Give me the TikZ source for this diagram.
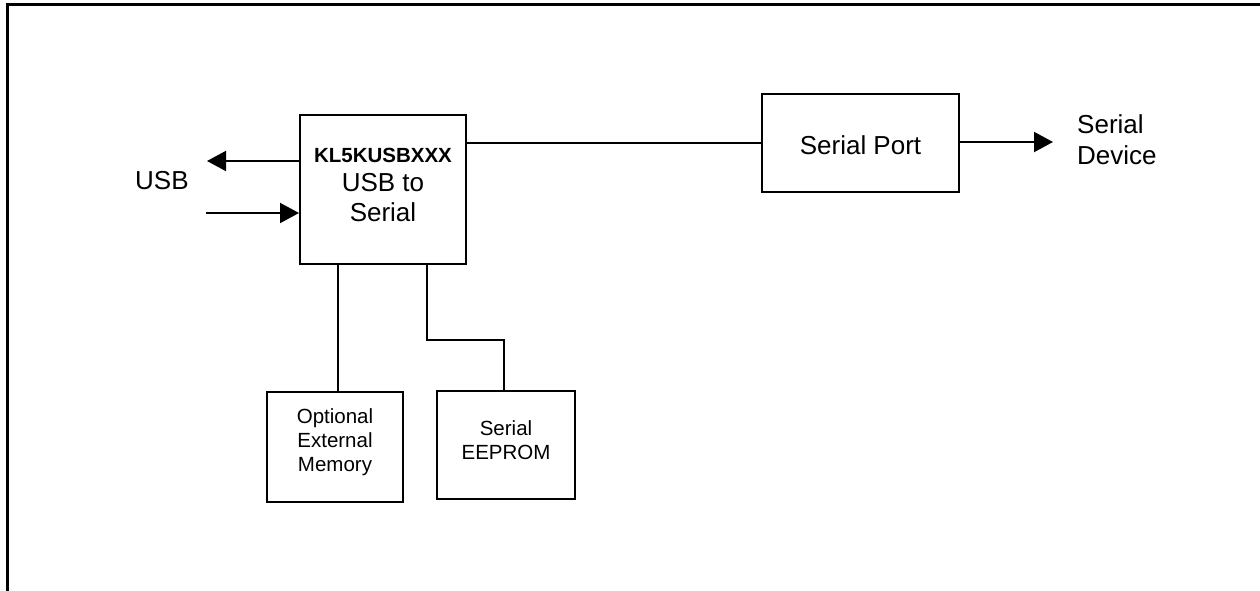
\documentclass[tikz,border=0pt]{standalone}
\usepackage{fontspec}
\setmainfont{Liberation Sans}
\usetikzlibrary{arrows.meta}
\begin{document}
\begin{tikzpicture}[x=1pt,y=-1pt,
  box/.style={draw,line width=2pt,inner sep=0pt},
  wire/.style={line width=2pt},
  arr/.style={line width=2pt,-{Triangle[length=19pt,width=20pt]}},
  big/.style={font=\fontsize{26}{30}\selectfont},
  small/.style={font=\fontsize{20.5}{24}\selectfont}]
\useasboundingbox (0,0) rectangle (1260,590);
\draw[line width=3pt] (7,592) -- (7,4) -- (1262,4);
% boxes
\node[box,minimum width=166pt,minimum height=149pt] (main) at (383,189.5) {};
\node[box,minimum width=197pt,minimum height=98pt] (port) at (860.5,143) {};
\node[box,minimum width=136pt,minimum height=110pt] (mem) at (335,447) {};
\node[box,minimum width=138pt,minimum height=108pt] (eep) at (506,445) {};
% texts
\node[anchor=base,inner sep=0pt,font=\fontsize{20.5}{24}\selectfont\bfseries] (t1) at (383,162) {KL5KUSBXXX};
\node[anchor=base,inner sep=0pt,big] (t2) at (383,191) {USB to};
\node[anchor=base,inner sep=0pt,big] (t3) at (383,221) {Serial};
\node[anchor=base,inner sep=0pt,big] (tp) at (860.5,154) {Serial Port};
\node[anchor=base west,inner sep=0pt,big] (sd1) at (1077,133) {Serial};
\node[anchor=base west,inner sep=0pt,big] (sd2) at (1077,164) {Device};
\node[anchor=base west,inner sep=0pt,big] (usb) at (135,189) {USB};
\node[anchor=base,inner sep=0pt,small] (m1) at (335,423) {Optional};
\node[anchor=base,inner sep=0pt,small] (m2) at (335,447) {External};
\node[anchor=base,inner sep=0pt,small] (m3) at (335,471) {Memory};
\node[anchor=base,inner sep=0pt,small] (e1) at (506,435) {Serial};
\node[anchor=base,inner sep=0pt,small] (e2) at (506,459) {EEPROM};
% connectors
\coordinate (usbout) at (207,161);
\coordinate (usbin) at (206,213);
\draw[arr] (main.west |- usbout) -- (usbout);
\draw[arr] (usbin) -- (main.west |- usbin);
\draw[wire] (main.east |- 0,143) -- (port.west |- 0,143);
\coordinate (dev) at (1053,142);
\draw[arr] (port.east |- dev) -- (dev);
\draw[wire] (main.south -| 338,0) -- (mem.north -| 338,0);
\draw[wire] (main.south -| 427,0) -- (427,340) -- (504,340) -- (eep.north -| 504,0);
\end{tikzpicture}
\end{document}
